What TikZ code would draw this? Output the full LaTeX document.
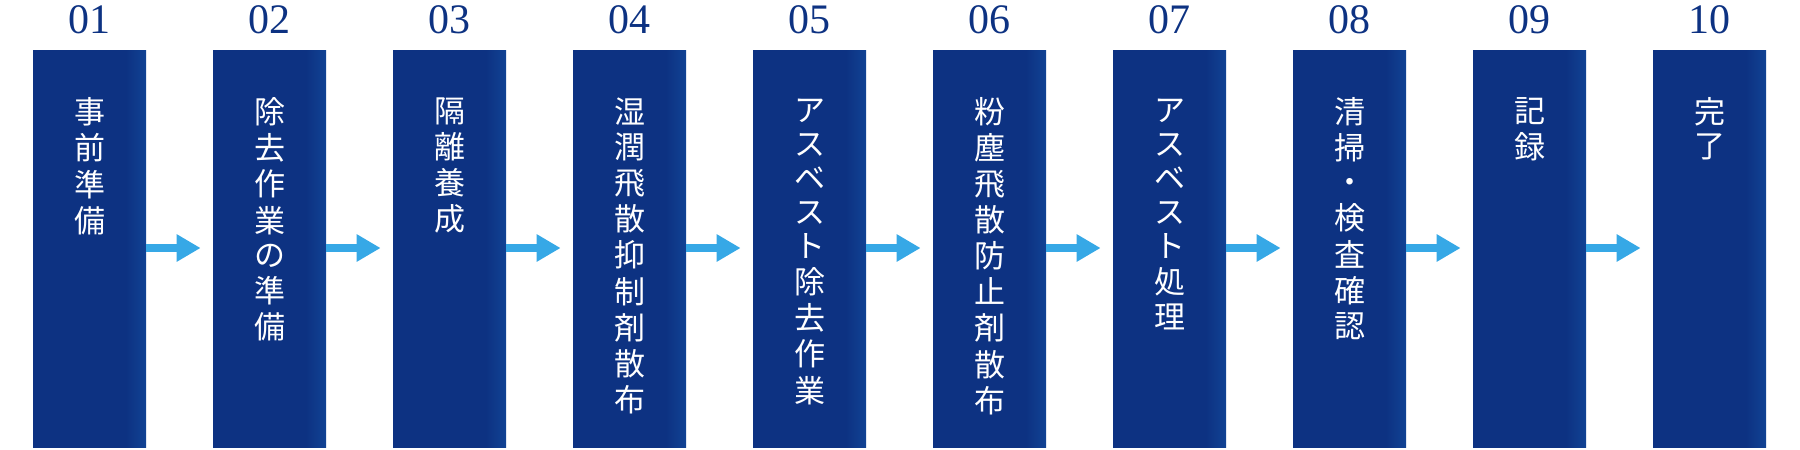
\documentclass[tikz,border=0pt]{standalone}
\usepackage{fontspec}
\setmainfont{Liberation Serif}
\newfontfamily\jp{Noto Sans CJK JP}
\usetikzlibrary{positioning,arrows.meta}
\definecolor{stepblue}{HTML}{0D3282}
\definecolor{steplight}{HTML}{1B70C6}
\definecolor{arrowblue}{HTML}{36A8E6}
\pgfdeclarehorizontalshading{stepshade}{100bp}{color(0bp)=(stepblue); color(50bp)=(stepblue); color(66bp)=(stepblue); color(100bp)=(steplight)}
\tikzset{
  stepbox/.style={shading=stepshade, minimum width=56.5pt, minimum height=198.5pt, inner sep=0pt},
  steptext/.style={text=white, font=\jp\fontsize{15.5}{17}\selectfont, align=center, anchor=north, inner sep=0pt},
  stepnum/.style={text=stepblue, font=\fontsize{21}{21}\selectfont},
  flow/.style={arrowblue, line width=4pt, -{Triangle[length=12pt,width=13pt]}}
}
\newcommand{\vtext}[1]{\begin{tabular}{@{}c@{}}#1\end{tabular}}
\begin{document}
\begin{tikzpicture}[x=0.5pt,y=-0.5pt]
  \useasboundingbox (0,0) rectangle (1800,450);
  \coordinate (mid) at (0,248);
  \foreach \lbl [count=\i] in {
      {事\\前\\準\\備},
      {除\\去\\作\\業\\の\\準\\備},
      {隔\\離\\養\\成},
      {湿\\潤\\飛\\散\\抑\\制\\剤\\散\\布},
      {ア\\ス\\ベ\\ス\\ト\\除\\去\\作\\業},
      {粉\\塵\\飛\\散\\防\\止\\剤\\散\\布},
      {ア\\ス\\ベ\\ス\\ト\\処\\理},
      {清\\掃\\・\\検\\査\\確\\認},
      {記\\録},
      {完\\了}} {
    \pgfmathsetmacro{\cx}{89.5+180*(\i-1)}
    \node[stepbox] (box\i) at (\cx,248.5) {};
    \node[stepnum] (num\i) at (\cx,20) {\ifnum\i<10 0\fi\i};
    \node[steptext] (lbl\i) at (\cx,97) {\vtext{\lbl}};
  }
  \foreach \i [evaluate=\i as \j using int(\i+1)] in {1,...,9} {
    \coordinate (tip\i) at ([xshift=-6pt]box\j.west |- mid);
    \draw[flow] (box\i.east |- mid) -- (tip\i);
  }
\end{tikzpicture}
\end{document}
